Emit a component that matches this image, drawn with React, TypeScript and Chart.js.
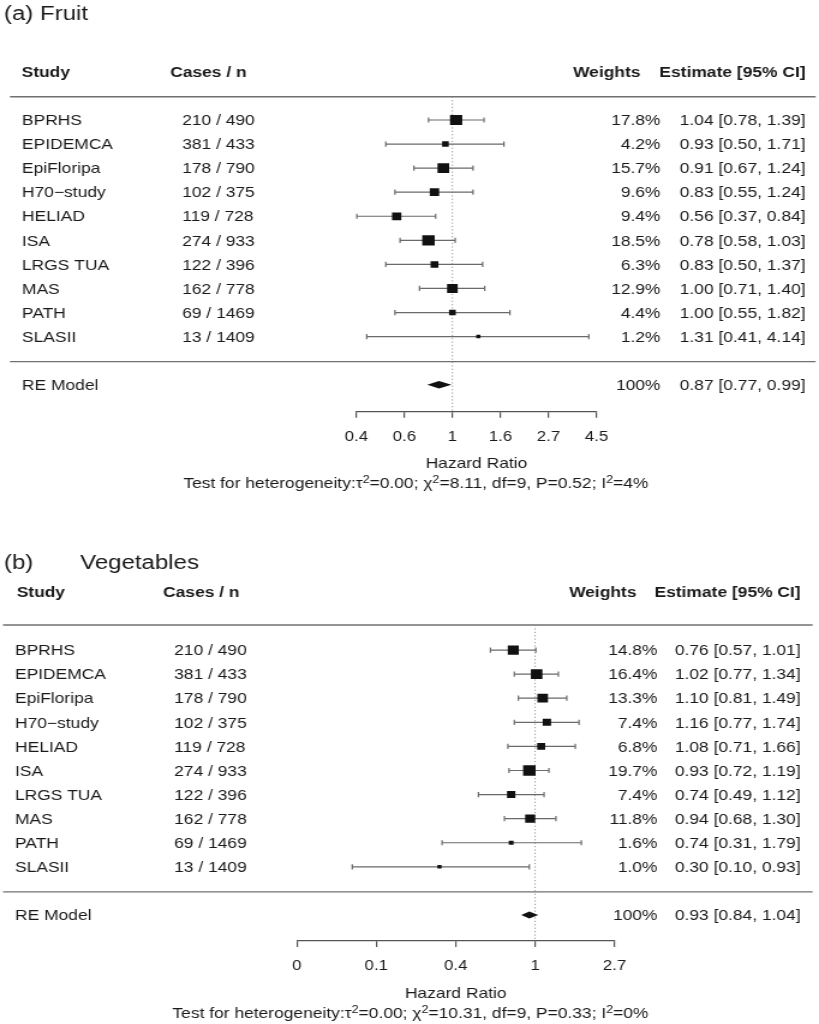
import React, { useEffect, useRef } from "react";
import { Chart, registerables } from "chart.js";

Chart.register(...registerables);

// ---------------- data ----------------
const studyNames = ["BPRHS", "EPIDEMCA", "EpiFloripa", "H70−study", "HELIAD", "ISA", "LRGS TUA", "MAS", "PATH", "SLASII"];
const casesN = ["210 / 490", "381 / 433", "178 / 790", "102 / 375", "119 / 728", "274 / 933", "122 / 396", "162 / 778", "69 / 1469", "13 / 1409"];

const fruitHR = [1.04, 0.93, 0.91, 0.83, 0.56, 0.78, 0.83, 1.0, 1.0, 1.31];
const fruitLower = [0.78, 0.5, 0.67, 0.55, 0.37, 0.58, 0.5, 0.71, 0.55, 0.41];
const fruitUpper = [1.39, 1.71, 1.24, 1.24, 0.84, 1.03, 1.37, 1.4, 1.82, 4.14];
const fruitWeights = [17.8, 4.2, 15.7, 9.6, 9.4, 18.5, 6.3, 12.9, 4.4, 1.2];
const fruitPooled = [0.87, 0.77, 0.99];
const fruitTickLogs = [-1, -0.5, 0, 0.5, 1, 1.5];
const fruitTickLabels = ["0.4", "0.6", "1", "1.6", "2.7", "4.5"];
const fruitHet = ["0.00", "8.11", "9", "0.52", "4%"];

const vegHR = [0.76, 1.02, 1.1, 1.16, 1.08, 0.93, 0.74, 0.94, 0.74, 0.3];
const vegLower = [0.57, 0.77, 0.81, 0.77, 0.71, 0.72, 0.49, 0.68, 0.31, 0.1];
const vegUpper = [1.01, 1.34, 1.49, 1.74, 1.66, 1.19, 1.12, 1.3, 1.79, 0.93];
const vegWeights = [14.8, 16.4, 13.3, 7.4, 6.8, 19.7, 7.4, 11.8, 1.6, 1.0];
const vegPooled = [0.93, 0.84, 1.04];
const vegTickLogs = [-3, -2, -1, 0, 1];
const vegTickLabels = ["0", "0.1", "0.4", "1", "2.7"];
const vegHet = ["0.00", "10.31", "9", "0.33", "0%"];

// ---------------- style / layout ----------------
const FONT = '"Liberation Sans", Arial, Helvetica, sans-serif';
const TEXT = "#1a1a1a";
const W = 682;
const H = 512;
const AXIS_H = 40;
const SQ_MAX = 10.4;

type PanelCfg = {
  hr: number[]; lo: number[]; hi: number[]; w: number[]; pooled: number[];
  tickLogs: number[]; tickLabels: string[]; het: string[];
  titles: { text: string; x: number }[]; titleY: number;
  chartLeft: number; chartRight: number; chartTop: number; chartBottom: number;
  yMin: number; yMax: number; xMin: number; xMax: number;
  lineX0: number; lineX1: number; lineRow: number;
  headerY: number; hStudyX: number; hCasesX: number; hWeightsX: number; hEstX: number;
  studyX: number; casesX: number; weightsX: number; estX: number;
  hazardY: number; hetRight: number; hetY: number; diamondHalf: number;
};

const panelA: PanelCfg = {
  hr: fruitHR, lo: fruitLower, hi: fruitUpper, w: fruitWeights, pooled: fruitPooled,
  tickLogs: fruitTickLogs, tickLabels: fruitTickLabels, het: fruitHet,
  titles: [{ text: "(a) Fruit", x: 3.3 }], titleY: 19.5,
  chartLeft: 296.7, chartRight: 496.7, chartTop: 96.7, chartBottom: 411.7,
  yMin: -0.968, yMax: 12.12, xMin: -1, xMax: 1.5,
  lineX0: 8.3, lineX1: 679.2, lineRow: 10.04,
  headerY: 77.3, hStudyX: 18, hCasesX: 141.7, hWeightsX: 533.3, hEstX: 670.8,
  studyX: 18.3, casesX: 151.7, weightsX: 550, estX: 670.8,
  hazardY: 468.3, hetRight: 540, hetY: 488, diamondHalf: 3.8,
};

const panelB: PanelCfg = {
  hr: vegHR, lo: vegLower, hi: vegUpper, w: vegWeights, pooled: vegPooled,
  tickLogs: vegTickLogs, tickLabels: vegTickLabels, het: vegHet,
  titles: [{ text: "(b)", x: 3.3 }, { text: "Vegetables", x: 66.7 }], titleY: 57.3,
  chartLeft: 247.2, chartRight: 511.7, chartTop: 113, chartBottom: 429,
  yMin: -1.04, yMax: 12.08, xMin: -3, xMax: 1,
  lineX0: 2.5, lineX1: 676.7, lineRow: 10.04,
  headerY: 84.7, hStudyX: 13.9, hCasesX: 135.8, hWeightsX: 530, hEstX: 666.7,
  studyX: 12.5, casesX: 145, weightsX: 547.5, estX: 666.7,
  hazardY: 486, hetRight: 540, hetY: 506, diamondHalf: 3.4,
};

function squareSides(w: number[]): number[] {
  const s = w.map((v) => Math.sqrt(v));
  const mn = Math.min(...s);
  const mx = Math.max(...s);
  return s.map((v) => (SQ_MAX * (0.5 + (v - mn) / (mx - mn))) / 1.5);
}

function fmt(v: number) {
  return v.toFixed(2);
}

function makePlugin(p: PanelCfg) {
  return {
    id: "forest",
    beforeDatasetsDraw(chart: any) {
      const { ctx, chartArea } = chart;
      const x = chart.scales.x;
      const y = chart.scales.y;
      ctx.save();
      // separator lines
      ctx.strokeStyle = "#707070";
      ctx.lineWidth = 1.4;
      [p.yMin, p.lineRow].forEach((r) => {
        const py = y.getPixelForValue(r);
        ctx.beginPath();
        ctx.moveTo(p.lineX0, py);
        ctx.lineTo(p.lineX1, py);
        ctx.stroke();
      });
      // reference line at HR = 1
      const x0 = x.getPixelForValue(0);
      ctx.strokeStyle = "#8c8c8c";
      ctx.lineWidth = 0.9;
      ctx.setLineDash([1.2, 2.2]);
      ctx.beginPath();
      ctx.moveTo(x0, chartArea.top);
      ctx.lineTo(x0, chartArea.bottom);
      ctx.stroke();
      ctx.setLineDash([]);
      // confidence intervals
      ctx.strokeStyle = "#6a6a6a";
      ctx.lineWidth = 1.2;
      p.hr.forEach((_, i) => {
        const py = y.getPixelForValue(i);
        const xl = x.getPixelForValue(Math.log(p.lo[i]));
        const xh = x.getPixelForValue(Math.log(p.hi[i]));
        ctx.beginPath();
        ctx.moveTo(xl, py);
        ctx.lineTo(xh, py);
        ctx.moveTo(xl, py - 2.6);
        ctx.lineTo(xl, py + 2.6);
        ctx.moveTo(xh, py - 2.6);
        ctx.lineTo(xh, py + 2.6);
        ctx.stroke();
      });
      // pooled diamond
      const dy = y.getPixelForValue(11);
      const [est, lo, hi] = p.pooled;
      ctx.fillStyle = "#111";
      ctx.beginPath();
      ctx.moveTo(x.getPixelForValue(Math.log(lo)), dy);
      ctx.lineTo(x.getPixelForValue(Math.log(est)), dy - p.diamondHalf);
      ctx.lineTo(x.getPixelForValue(Math.log(hi)), dy);
      ctx.lineTo(x.getPixelForValue(Math.log(est)), dy + p.diamondHalf);
      ctx.closePath();
      ctx.fill();
      ctx.restore();
    },
    afterDraw(chart: any) {
      const { ctx, chartArea } = chart;
      const y = chart.scales.y;
      ctx.save();
      ctx.fillStyle = TEXT;
      ctx.textBaseline = "alphabetic";
      const put = (s: string, px: number, py: number, align: CanvasTextAlign, font: string) => {
        ctx.font = font;
        ctx.textAlign = align;
        ctx.fillText(s, px, py);
      };
      const normal = `14.5px ${FONT}`;
      const bold = `bold 14.5px ${FONT}`;
      // title
      p.titles.forEach((t) => put(t.text, t.x, p.titleY, "left", `20px ${FONT}`));
      // headers
      put("Study", p.hStudyX, p.headerY, "left", bold);
      put("Cases / n", p.hCasesX, p.headerY, "left", bold);
      put("Weights", p.hWeightsX, p.headerY, "right", bold);
      put("Estimate [95% CI]", p.hEstX, p.headerY, "right", bold);
      // rows
      studyNames.forEach((name, i) => {
        const py = y.getPixelForValue(i) + 5.2;
        put(name, p.studyX, py, "left", normal);
        put(casesN[i], p.casesX, py, "left", normal);
        put(`${p.w[i].toFixed(1)}%`, p.weightsX, py, "right", normal);
        put(`${fmt(p.hr[i])} [${fmt(p.lo[i])}, ${fmt(p.hi[i])}]`, p.estX, py, "right", normal);
      });
      // pooled row
      const ry = y.getPixelForValue(11) + 5.2;
      put("RE Model", p.studyX, ry, "left", normal);
      put("100%", p.weightsX, ry, "right", normal);
      put(`${fmt(p.pooled[0])} [${fmt(p.pooled[1])}, ${fmt(p.pooled[2])}]`, p.estX, ry, "right", normal);
      // axis title
      put("Hazard Ratio", (chartArea.left + chartArea.right) / 2, p.hazardY, "center", normal);
      // heterogeneity text with superscripts
      const [tau2, chi2, df, pv, i2] = p.het;
      const segs: { t: string; sup?: boolean }[] = [
        { t: "Test for heterogeneity:τ" },
        { t: "2", sup: true },
        { t: `=${tau2}; χ` },
        { t: "2", sup: true },
        { t: `=${chi2}, df=${df}, P=${pv}; I` },
        { t: "2", sup: true },
        { t: `=${i2}` },
      ];
      const mainFont = `14.5px ${FONT}`;
      const supFont = `10.5px ${FONT}`;
      let total = 0;
      segs.forEach((s) => {
        ctx.font = s.sup ? supFont : mainFont;
        total += ctx.measureText(s.t).width;
      });
      let cx = p.hetRight - total;
      ctx.textAlign = "left";
      segs.forEach((s) => {
        ctx.font = s.sup ? supFont : mainFont;
        ctx.fillText(s.t, cx, s.sup ? p.hetY - 5.5 : p.hetY);
        cx += ctx.measureText(s.t).width;
      });
      ctx.restore();
    },
  };
}

function ForestPanel({ cfg }: { cfg: PanelCfg }) {
  const ref = useRef<HTMLCanvasElement | null>(null);
  useEffect(() => {
    if (!ref.current) return;
    const sides = squareSides(cfg.w);
    const chart = new Chart(ref.current, {
      type: "scatter",
      data: {
        datasets: [
          {
            data: cfg.hr.map((v, i) => ({ x: Math.log(v), y: i })),
            pointStyle: "rect",
            pointRadius: sides.map((s) => s / (2 * Math.SQRT1_2)),
            pointHoverRadius: sides.map((s) => s / (2 * Math.SQRT1_2)),
            backgroundColor: "#111",
            borderColor: "#111",
            borderWidth: 0,
          },
        ],
      },
      options: {
        animation: false,
        responsive: false,
        events: [],
        layout: {
          padding: {
            left: cfg.chartLeft,
            right: W - cfg.chartRight,
            top: cfg.chartTop,
            bottom: H - cfg.chartBottom - AXIS_H,
          },
        },
        plugins: { legend: { display: false }, tooltip: { enabled: false }, title: { display: false } },
        scales: {
          x: {
            type: "linear",
            position: "bottom",
            min: cfg.xMin,
            max: cfg.xMax,
            afterBuildTicks: (s: any) => {
              s.ticks = cfg.tickLogs.map((v) => ({ value: v }));
            },
            afterFit: (s: any) => {
              s.height = AXIS_H;
            },
            ticks: {
              autoSkip: false,
              maxRotation: 0,
              minRotation: 0,
              padding: 11,
              color: TEXT,
              font: { family: FONT, size: 14 },
              callback: (_v: any, i: number) => cfg.tickLabels[i],
            },
            grid: { drawOnChartArea: false, drawTicks: true, tickLength: 6, color: "#555", lineWidth: 1.2 },
            border: { display: true, color: "#555", width: 1.2 },
          },
          y: { type: "linear", display: false, reverse: true, min: cfg.yMin, max: cfg.yMax },
        },
      },
      plugins: [makePlugin(cfg)],
    } as any);
    return () => chart.destroy();
  }, [cfg]);
  return (
    <canvas
      ref={ref}
      width={W}
      height={H}
      style={{ display: "block", width: "819px", height: "512px" }}
    />
  );
}

export default function App() {
  return (
    <div style={{ position: "absolute", left: 0, top: 0, width: 819, height: 1024, background: "#fff" }}>
      <ForestPanel cfg={panelA} />
      <ForestPanel cfg={panelB} />
    </div>
  );
}
